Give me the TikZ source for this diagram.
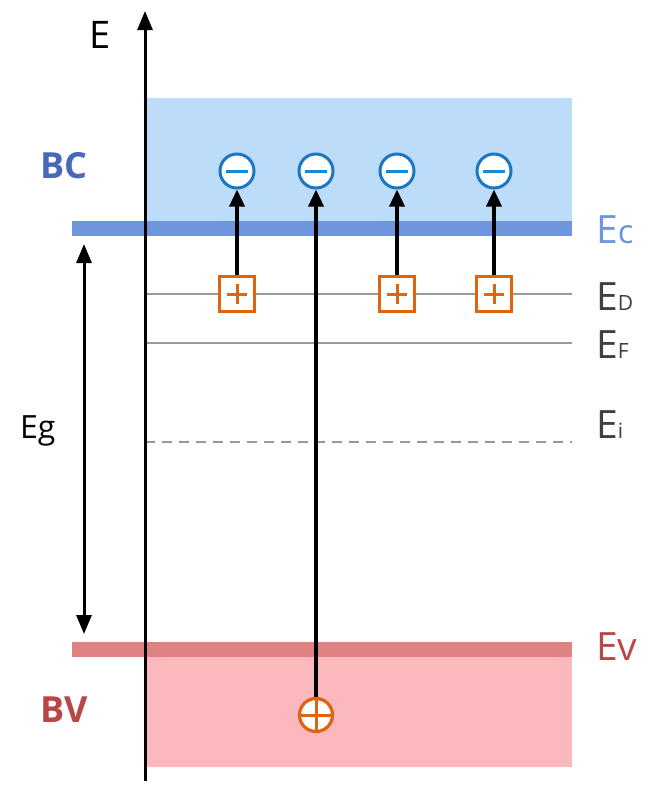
\documentclass[tikz,border=0pt]{standalone}
\usepackage{fontspec}
\setmainfont{Open Sans}
\usetikzlibrary{arrows.meta}
\definecolor{bclight}{HTML}{BCDCFA}
\definecolor{bcband}{HTML}{6E96DE}
\definecolor{bctext}{HTML}{4A68B8}
\definecolor{bvlight}{HTML}{FBB9BD}
\definecolor{bvband}{HTML}{E08282}
\definecolor{bvtext}{HTML}{B84848}
\definecolor{eblue}{HTML}{1A78C2}
\definecolor{horange}{HTML}{E0640F}
\definecolor{lvl}{HTML}{999999}
\definecolor{lbl}{HTML}{404040}
\tikzset{
  big/.style={font=\fontsize{39}{40}\selectfont},
  electron/.style={circle, minimum size=34pt, inner sep=0pt, draw=eblue, line width=3pt, fill=white,
    path picture={\draw[eblue!85!cyan, line width=3pt] ([xshift=-11pt]path picture bounding box.center) -- ([xshift=11pt]path picture bounding box.center);}},
  donor/.style={rectangle, minimum size=35pt, inner sep=0pt, draw=horange, line width=3pt, fill=white,
    path picture={\draw[horange, line width=3pt] ([xshift=-10pt]path picture bounding box.center) -- ([xshift=10pt]path picture bounding box.center)
      ([yshift=-10pt]path picture bounding box.center) -- ([yshift=10pt]path picture bounding box.center);}},
  hole/.style={circle, minimum size=33pt, inner sep=0pt, draw=horange, line width=3.2pt, fill=white,
    path picture={\draw[horange, line width=3pt] ([xshift=-17pt]path picture bounding box.center) -- ([xshift=17pt]path picture bounding box.center)
      ([yshift=-17pt]path picture bounding box.center) -- ([yshift=17pt]path picture bounding box.center);}},
  jump/.style={line width=3.5pt, -{Triangle[width=15pt,length=17pt]}},
  level/.style={lvl, line width=2.2pt},
}
\begin{document}
\begin{tikzpicture}[x=1pt,y=-1pt]
\useasboundingbox (0,0) rectangle (656,787);
% bands
\fill[bclight] (145,98) rectangle (572,225);
\fill[bcband] (72,221) rectangle (572,236);
\fill[bvlight] (145,656) rectangle (572,767);
\fill[bvband] (72,642) rectangle (572,657);
% levels
\draw[level] (145,294) -- (572,294);
\draw[level] (145,343) -- (572,343);
\draw[level, dash pattern=on 10pt off 7pt] (145,442) -- (572,442);
% axis
\coordinate (axb) at (145,781);
\coordinate (axt) at (145,11);
\draw[line width=3pt, -{Triangle[width=15pt,length=19pt]}] (axb) -- (axt);
\node[anchor=base west, inner sep=0pt, font=\fontsize{38}{39}\selectfont] (Elab) at (89,48) {E};
% Eg arrow
\coordinate (egt) at (84,244);
\coordinate (egb) at (84,634);
\draw[line width=3pt, {Triangle[width=15pt,length=19pt]}-{Triangle[width=15pt,length=19pt]}] (egb) -- (egt);
\node[anchor=base west, inner sep=0pt, font=\fontsize{32}{33}\selectfont] (Eg) at (20,438) {Eg};
% band labels
\node[anchor=base west, inner sep=0pt, font=\fontsize{36}{37}\selectfont\bfseries, text=bctext] (BC) at (40,178) {BC};
\node[anchor=base west, inner sep=0pt, font=\fontsize{36}{37}\selectfont\bfseries, text=bvtext] (BV) at (40,722) {BV};
% level labels
\node[anchor=base west, inner sep=0pt, big, text=bcband] (Ec) at (596,243) {E{\fontsize{33}{34}\selectfont c}};
\node[anchor=base west, inner sep=0pt, big, text=lbl] (ED) at (596,310) {E{\fontsize{21}{22}\selectfont D}};
\node[anchor=base west, inner sep=0pt, big, text=lbl] (EF) at (596,358) {E{\fontsize{21}{22}\selectfont F}};
\node[anchor=base west, inner sep=0pt, big, text=lbl] (Ei) at (596,438) {E{\fontsize{21}{22}\selectfont i}};
\node[anchor=base west, inner sep=0pt, big, text=bvtext] (Ev) at (596,660) {Ev};
% carriers
\node[electron] (e1) at (237,171) {};
\node[electron] (e2) at (316,171) {};
\node[electron] (e3) at (397,171) {};
\node[electron] (e4) at (494,171) {};
\node[donor] (d1) at (237,294) {};
\node[donor] (d3) at (397,294) {};
\node[donor] (d4) at (494,294) {};
\node[hole] (h) at (316,715) {};
% transitions
\draw[jump] (d1) -- (e1);
\draw[jump] (d3) -- (e3);
\draw[jump] (d4) -- (e4);
\draw[jump] (h) -- (e2);
\end{tikzpicture}
\end{document}
